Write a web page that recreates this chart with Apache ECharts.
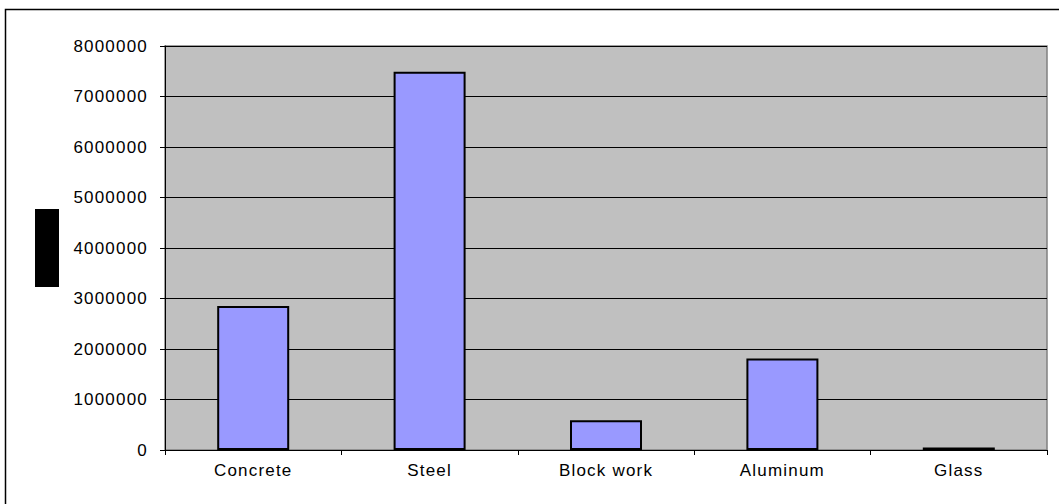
<!DOCTYPE html>
<html>
<head>
<meta charset="utf-8">
<script src="https://cdn.jsdelivr.net/npm/echarts@6/dist/echarts.min.js"></script>
<style>
  html, body { margin: 0; padding: 0; background: #fff; }
  #chart { width: 1059px; height: 504px; }
  #chart text { letter-spacing: 1.2px; }
</style>
</head>
<body>
<div id="chart"></div>
<script>
// Material quantities per category
const categories = ['Concrete', 'Steel', 'Block work', 'Aluminum', 'Glass'];
const values = [2850000, 7490000, 590000, 1810000, 50000];
const yTicks = { min: 0, max: 8000000, interval: 1000000 };

const chart = echarts.init(document.getElementById('chart'), null, { renderer: 'svg' });

const labelFont = {
  color: '#000',
  fontSize: 17,
  fontFamily: 'Liberation Sans, Arial, sans-serif'
};

chart.setOption({
  animation: false,
  backgroundColor: '#fff',
  graphic: [
    {
      type: 'rect',
      shape: { x: 5.5, y: 9.5, width: 1060, height: 510 },
      style: { fill: 'none', stroke: '#000', lineWidth: 1.5 },
      silent: true
    },
    {
      type: 'rect',
      shape: { x: 35, y: 209, width: 24, height: 78 },
      style: { fill: '#000' },
      silent: true
    }
  ],
  grid: {
    left: 165,
    top: 46,
    right: 12,
    bottom: 54,
    show: true,
    backgroundColor: '#C0C0C0',
    borderColor: '#808080',
    borderWidth: 1.5
  },
  xAxis: {
    type: 'category',
    data: categories,
    boundaryGap: true,
    axisLine: { show: true, lineStyle: { color: '#000', width: 1 } },
    axisTick: { show: true, alignWithLabel: false, length: 5, lineStyle: { color: '#000' } },
    axisLabel: Object.assign({ margin: 12 }, labelFont),
    splitLine: { show: false }
  },
  yAxis: {
    type: 'value',
    min: yTicks.min,
    max: yTicks.max,
    interval: yTicks.interval,
    axisLine: { show: true, lineStyle: { color: '#000', width: 1 } },
    axisTick: { show: true, length: 5, lineStyle: { color: '#000' } },
    axisLabel: Object.assign({ margin: 17, formatter: (v) => String(v) }, labelFont),
    splitLine: { show: true, lineStyle: { color: '#000', width: 1 } }
  },
  series: [
    {
      type: 'bar',
      data: values,
      barWidth: 72,
      itemStyle: {
        color: '#9999FF',
        borderColor: '#000',
        borderWidth: 2
      }
    }
  ]
});
</script>
</body>
</html>
